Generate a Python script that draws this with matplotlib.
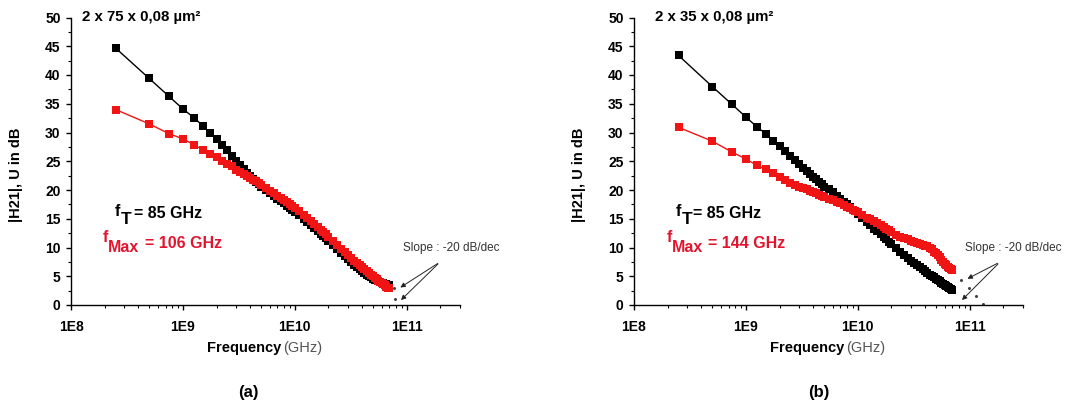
import matplotlib
matplotlib.use("Agg")
import matplotlib.pyplot as plt
import numpy as np

plt.rcParams['font.family'] = ['Liberation Sans', 'DejaVu Sans']

# ---------------- data ----------------
freq_ghz = [0.25, 0.5, 0.75, 1.0, 1.25, 1.5, 1.75, 2.0, 2.25, 2.5, 2.75, 3.0, 3.25, 3.5, 3.75,
            4.0, 4.25, 4.5, 4.75, 5.0,
            5.5, 6, 6.5, 7, 7.5, 8, 8.5, 9, 9.5, 10,
            11, 12, 13, 14, 15, 16, 17, 18, 19, 20,
            22, 24, 26, 28, 30, 32, 34, 36, 38, 40, 42, 44, 46, 48, 50,
            52, 54, 56, 58, 60, 62, 64, 66, 68, 70]

h21_a = [44.7, 39.4, 36.3, 34.1, 32.6, 31.2, 29.9, 28.9, 27.9, 26.9, 26.0, 25.1, 24.4, 23.6, 23.0,
         22.4, 21.9, 21.4, 21.0, 20.6,
         20.0, 19.5, 19.0, 18.5, 18.1, 17.7, 17.3, 16.9, 16.5, 16.2,
         15.6, 15.0, 14.4, 13.9, 13.4, 12.9, 12.4, 12.0, 11.6, 11.2,
         10.5, 9.8, 9.1, 8.5, 8.0, 7.5, 7.0, 6.6, 6.2, 5.9, 5.6, 5.3, 5.0, 4.8, 4.6,
         4.4, 4.3, 4.1, 4.0, 3.9, 3.8, 3.7, 3.6, 3.5, 3.5]

u_a = [34.0, 31.5, 29.8, 28.9, 27.9, 27.0, 26.3, 25.7, 25.1, 24.6, 24.1, 23.5, 23.1, 22.8, 22.4,
       22.1, 21.8, 21.5, 21.2, 20.9,
       20.4, 19.9, 19.4, 19.0, 18.6, 18.2, 17.9, 17.6, 17.2, 16.9,
       16.3, 15.7, 15.1, 14.6, 14.1, 13.6, 13.1, 12.7, 12.3, 11.9,
       11.2, 10.5, 9.8, 9.2, 8.7, 8.2, 7.7, 7.3, 6.9, 6.6, 6.2, 5.9, 5.6, 5.3, 5.0,
       4.7, 4.5, 4.2, 4.0, 3.8, 3.6, 3.4, 3.2, 3.0, 2.9]

h21_b = [43.4, 38.0, 34.9, 32.7, 31.0, 29.8, 28.6, 27.6, 26.7, 25.9, 25.2, 24.6, 23.9, 23.3, 22.8,
         22.3, 21.9, 21.4, 21.0, 20.6,
         20.1, 19.6, 19.0, 18.5, 18.0, 17.5, 17.1, 16.6, 16.3, 15.9,
         15.2, 14.5, 13.9, 13.3, 12.8, 12.3, 11.8, 11.4, 11.0, 10.6,
         9.9, 9.3, 8.7, 8.2, 7.7, 7.3, 6.9, 6.6, 6.3, 5.9, 5.6, 5.3, 5.0, 4.8, 4.5,
         4.3, 4.1, 3.9, 3.7, 3.5, 3.3, 3.1, 2.9, 2.8, 2.6]

u_b = [30.9, 28.5, 26.6, 25.4, 24.3, 23.6, 22.9, 22.3, 21.8, 21.3, 20.9, 20.6, 20.3, 20.1, 19.8,
       19.6, 19.4, 19.2, 19.0, 18.8,
       18.5, 18.2, 17.9, 17.7, 17.4, 17.1, 16.9, 16.6, 16.4, 16.1,
       15.6, 15.2, 15.0, 14.6, 14.2, 13.9, 13.6, 13.3, 13.0, 12.7,
       12.2, 11.9, 11.7, 11.4, 11.1, 10.9, 10.7, 10.6, 10.4, 10.3, 10.2, 10.0, 9.7, 9.3, 9.0,
       8.7, 8.3, 7.9, 7.5, 7.2, 6.9, 6.6, 6.4, 6.2, 6.1]

slope_dots_a_ghz = [77, 79]
slope_dots_a_db = [3.0, 1.0]
slope_dots_b_ghz = [84, 98, 113, 133]
slope_dots_b_db = [4.35, 3.0, 1.6, 0.2]

titles = ["2 x 75 x 0,08 µm²", "2 x 35 x 0,08 µm²"]
ft_values = ["= 85 GHz", "= 85 GHz"]
fmax_values = ["= 106 GHz", "= 144 GHz"]
panel_tags = ["(a)", "(b)"]
xtick_vals = [1e8, 1e9, 1e10, 1e11]
xtick_labels = ["1E8", "1E9", "1E10", "1E11"]
ytick_vals = [0, 5, 10, 15, 20, 25, 30, 35, 40, 45, 50]

# ---------------- figure ----------------
W, H = 1071, 403
fig = plt.figure(figsize=(W / 100, H / 100), dpi=100)

def fx(px):
    return px / W

def fy(py):
    return 1 - py / H

RED = '#f01414'
TXT_RED = '#e3142d'

panels = [
    dict(left=71, h21=h21_a, u=u_a, dots=(slope_dots_a_ghz, slope_dots_a_db),
         title_x=82, f_x=115, T_x=121, eq_x=134, fm_x=103, max_x=108, eqm_x=145,
         xl_bold=207, xl_norm=283, tag_x=248,
         slope_text=(403, 248), arrow_tail=(440, 262), heads=[(398, 289), (399, 302)]),
    dict(left=634, h21=h21_b, u=u_b, dots=(slope_dots_b_ghz, slope_dots_b_db),
         title_x=655, f_x=676, T_x=682, eq_x=693, fm_x=667, max_x=672, eqm_x=708,
         xl_bold=770, xl_norm=846, tag_x=819,
         slope_text=(965, 248), arrow_tail=(1000, 262), heads=[(965, 280), (960, 302)]),
]

top, bottom, width = 17.5, 305, 389
MS = 6.2

for i, p in enumerate(panels):
    ax = fig.add_axes([fx(p['left']), fy(bottom), width / W, (bottom - top) / H])
    f_hz = np.array(freq_ghz) * 1e9
    ax.plot(f_hz, p['h21'], color='black', linewidth=1.0, zorder=3)
    ax.plot(f_hz, p['h21'], color='black', marker='s', markersize=MS, linestyle='none',
            markeredgewidth=0, zorder=3)
    ax.plot(f_hz, p['u'], color=RED, linewidth=1.0, zorder=4)
    ax.plot(f_hz, p['u'], color=RED, marker='s', markersize=MS, linestyle='none',
            markeredgewidth=0, zorder=4)
    ax.plot(np.array(p['dots'][0]) * 1e9, p['dots'][1], linestyle='none', marker='o',
            markersize=1.2, color='#444444', zorder=2)

    ax.set_xscale('log')
    ax.set_xlim(1e8, 3e11)
    ax.set_ylim(0, 50)
    ax.set_xticks(xtick_vals)
    ax.set_xticklabels(xtick_labels)
    ax.set_yticks(ytick_vals)
    ax.set_yticks(np.arange(2.5, 50, 5), minor=True)
    ax.xaxis.set_minor_locator(matplotlib.ticker.LogLocator(base=10, subs=np.arange(2, 10)))
    ax.xaxis.set_minor_formatter(matplotlib.ticker.NullFormatter())
    for s in ['top', 'right']:
        ax.spines[s].set_visible(False)
    for s in ['left', 'bottom']:
        ax.spines[s].set_linewidth(1.0)
    ax.tick_params(which='major', direction='out', length=3.5, width=1.0, labelsize=10)
    ax.tick_params(which='minor', direction='out', length=2, width=0.8)
    ax.tick_params(axis='x', which='major', pad=7)
    ax.tick_params(axis='y', which='major', pad=4)
    for lab in ax.get_xticklabels() + ax.get_yticklabels():
        lab.set_fontweight('bold')

    # title
    fig.text(fx(p['title_x']), fy(17.5), titles[i], fontsize=10.8, fontweight='bold',
             ha='left', va='center')

    # fT
    fig.text(fx(p['f_x']), fy(212), 'f', fontsize=11.5, fontweight='bold', ha='left', va='center')
    fig.text(fx(p['T_x']), fy(219), 'T', fontsize=12.5, fontweight='bold', ha='left', va='center')
    fig.text(fx(p['eq_x']), fy(213), ft_values[i], fontsize=11.5, fontweight='bold',
             ha='left', va='center')
    # fMax
    fig.text(fx(p['fm_x']), fy(238), 'f', fontsize=11.5, fontweight='bold', color=TXT_RED,
             ha='left', va='center')
    fig.text(fx(p['max_x']), fy(248), 'Max', fontsize=11.5, fontweight='bold', color=TXT_RED,
             ha='left', va='center')
    fig.text(fx(p['eqm_x']), fy(243), fmax_values[i], fontsize=11.5, fontweight='bold',
             color=TXT_RED, ha='left', va='center')

    # slope annotation
    fig.text(fx(p['slope_text'][0]), fy(p['slope_text'][1]), 'Slope : -20 dB/dec',
             fontsize=8.5, color='#333333', ha='left', va='center')
    for hx, hy in p['heads']:
        fig.add_artist(matplotlib.patches.FancyArrowPatch(
            (fx(p['arrow_tail'][0]), fy(p['arrow_tail'][1])), (fx(hx), fy(hy)),
            transform=fig.transFigure, arrowstyle='-|>', mutation_scale=7,
            linewidth=0.7, color='#222222'))

    # x label
    fig.text(fx(p['xl_bold']), fy(348), 'Frequency', fontsize=10.5, fontweight='bold',
             ha='left', va='center')
    fig.text(fx(p['xl_norm']), fy(348), '(GHz)', fontsize=10.5, color='#555555',
             ha='left', va='center')
    # y label
    fig.text(fx(p['left'] - 55), fy(175), '|H21|, U in dB', fontsize=10.5, fontweight='bold',
             rotation=90, ha='center', va='center')
    # panel tag
    fig.text(fx(p['tag_x']), fy(392), panel_tags[i], fontsize=12, fontweight='bold',
             ha='center', va='center')

fig.savefig('out.png', dpi=100)
